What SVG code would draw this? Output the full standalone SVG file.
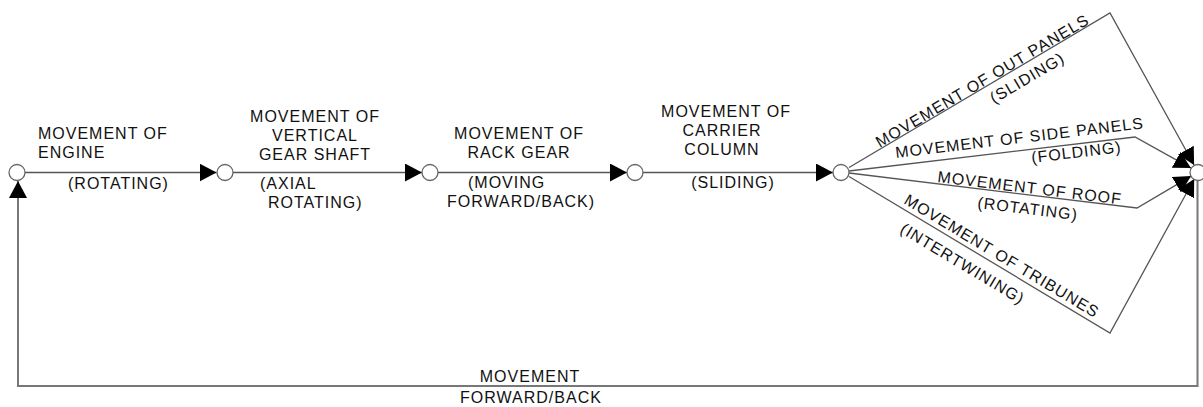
<svg xmlns="http://www.w3.org/2000/svg" width="1203" height="407" viewBox="0 0 1203 407">
<style>
.t{font-family:"Liberation Sans",Arial,sans-serif;font-size:16px;letter-spacing:1px;fill:#111}
.m{text-anchor:middle}
.c{stroke:#555;stroke-width:1.3;fill:none}
.lp{stroke:#777;stroke-width:2;fill:none}
.n{fill:#fff;stroke:#666;stroke-width:1.3}
</style>
<defs>
<marker id="ah" markerUnits="userSpaceOnUse" viewBox="0 0 17 18" markerWidth="17" markerHeight="18" refX="17" refY="9" orient="auto">
<path d="M0,0 L17,9 L0,18 z" fill="#000"/>
</marker>
</defs>
<rect width="1203" height="407" fill="#fff"/>
<g id="connectors">
<line class="c" x1="25" y1="172.5" x2="216.5" y2="172.5" marker-end="url(#ah)"/>
<line class="c" x1="233" y1="172.5" x2="422" y2="172.5" marker-end="url(#ah)"/>
<line class="c" x1="438" y1="172.5" x2="627" y2="172.5" marker-end="url(#ah)"/>
<line class="c" x1="643" y1="172.5" x2="833" y2="172.5" marker-end="url(#ah)"/>
<polyline class="c" points="849,167.5 1110,13 1194.1,165" marker-end="url(#ah)"/>
<polyline class="c" points="849,171 1135,137 1191,168.1" marker-end="url(#ah)"/>
<polyline class="c" points="849,173 1137,208 1191.1,176.1" marker-end="url(#ah)"/>
<polyline class="c" points="849,176.5 1110,333 1194.2,179" marker-end="url(#ah)"/>
<polyline class="lp" points="1197.5,180.5 1197.5,386 18,386 18,181" marker-end="url(#ah)"/>
</g>
<g id="n1"><circle class="n" cx="17" cy="172.5" r="8"/>
<text class="t" x="38" y="139">MOVEMENT OF</text>
<text class="t" x="38" y="158">ENGINE</text>
<text class="t" x="68" y="189">(ROTATING)</text></g>
<g id="n2"><circle class="n" cx="225" cy="172.5" r="8"/>
<text class="t m" x="315" y="122">MOVEMENT OF</text>
<text class="t m" x="315" y="141">VERTICAL</text>
<text class="t m" x="315" y="160">GEAR SHAFT</text>
<text class="t" x="260" y="189">(AXIAL</text>
<text class="t" x="268" y="208">ROTATING)</text></g>
<g id="n3"><circle class="n" cx="430" cy="172.5" r="8"/>
<text class="t m" x="519" y="139">MOVEMENT OF</text>
<text class="t m" x="519" y="158">RACK GEAR</text>
<text class="t" x="468" y="188">(MOVING</text>
<text class="t" x="447" y="207">FORWARD/BACK)</text></g>
<g id="n4"><circle class="n" cx="635" cy="172.5" r="8"/>
<text class="t m" x="726" y="117">MOVEMENT OF</text>
<text class="t m" x="722" y="136">CARRIER</text>
<text class="t m" x="722" y="155">COLUMN</text>
<text class="t m" x="733" y="188">(SLIDING)</text></g>
<g id="n5"><circle class="n" cx="841" cy="172.5" r="8"/></g>
<g id="n6"><circle class="n" cx="1198" cy="172.5" r="8"/></g>
<g id="labels">
<text class="t" transform="translate(879.7,148) rotate(-30.67)" letter-spacing="2">MOVEMENT OF OUT PANELS</text>
<text class="t" transform="translate(994,104) rotate(-30.67)">(SLIDING)</text>
<text class="t" transform="translate(896,158) rotate(-6.83)">MOVEMENT OF SIDE PANELS</text>
<text class="t" transform="translate(1032,163) rotate(-6.83)">(FOLDING)</text>
<text class="t" transform="translate(937,182) rotate(6.96)">MOVEMENT OF ROOF</text>
<text class="t" transform="translate(977,208) rotate(6.96)">(ROTATING)</text>
<text class="t" transform="translate(903,203) rotate(31)">MOVEMENT OF TRIBUNES</text>
<text class="t" transform="translate(899,232) rotate(31)">(INTERTWINING)</text>
<text class="t m" x="530" y="382">MOVEMENT</text>
<text class="t m" x="531" y="403">FORWARD/BACK</text>
</g>
</svg>
